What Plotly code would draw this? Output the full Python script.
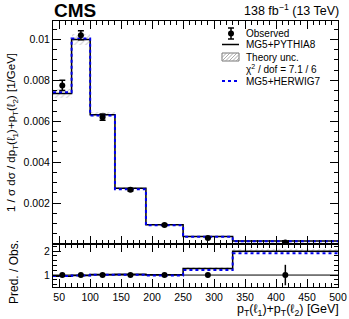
import plotly.graph_objects as go
import numpy as np

# ---- data ----
bin_edges = [40, 70, 100, 140, 190, 250, 330, 500]
observed = [0.00775, 0.0102, 0.0062, 0.00265, 0.00093, 0.00029, 0.00007]
observed_err = [0.00025, 0.00022, 0.00015, 0.00006, 0.00003, 0.00002, 0.00003]
pythia8 = [0.00735, 0.0100, 0.00632, 0.00273, 0.00094, 0.00037, 0.00014]
herwig7 = [0.00742, 0.01004, 0.00628, 0.00268, 0.00091, 0.00035, 0.000134]
theory_rel_unc = [0.03, 0.025, 0.02, 0.02, 0.03, 0.04, 0.04]
x_tick_vals = [50, 100, 150, 200, 250, 300, 350, 400, 450, 500]
y_tick_vals = [0.002, 0.004, 0.006, 0.008, 0.01]
y_tick_text = ["0.002", "0.004", "0.006", "0.008", "0.01"]

edges = np.array(bin_edges, float)
centers = 0.5 * (edges[:-1] + edges[1:])
widths = np.diff(edges)
obs = np.array(observed)
oerr = np.array(observed_err)
py = np.array(pythia8)
hw = np.array(herwig7)
unc = np.array(theory_rel_unc)

FONT = "Liberation Sans, Arial, Helvetica, sans-serif"
fig = go.Figure()

def step(vals):
    return list(edges), list(vals) + [vals[-1]]

# ---- main panel ----
fig.add_trace(go.Bar(x=centers, width=widths, base=py * (1 - unc), y=py * 2 * unc,
                     marker=dict(color="rgba(255,255,255,0)", line=dict(width=0),
                                 pattern=dict(shape="/", fgcolor="#999999", size=4, solidity=0.25)),
                     xaxis="x", yaxis="y", showlegend=False, hoverinfo="skip"))
sx, sy = step(py)
fig.add_trace(go.Scatter(x=sx, y=sy, mode="lines", line=dict(color="black", width=1.5, shape="hv"),
                         xaxis="x", yaxis="y", showlegend=False))
sx, sy = step(hw)
fig.add_trace(go.Scatter(x=sx, y=sy, mode="lines", line=dict(color="#0000ee", width=2, dash="dot", shape="hv"),
                         xaxis="x", yaxis="y", showlegend=False))
fig.add_trace(go.Scatter(x=centers, y=obs, mode="markers",
                         marker=dict(color="black", size=6),
                         error_y=dict(type="data", array=oerr, color="black", thickness=1.5, width=3),
                         xaxis="x", yaxis="y", showlegend=False))

# ---- ratio panel ----
rpy = py / obs
rhw = hw / obs
fig.add_trace(go.Bar(x=centers, width=widths, base=rpy * (1 - unc), y=rpy * 2 * unc,
                     marker=dict(color="rgba(255,255,255,0)", line=dict(width=0),
                                 pattern=dict(shape="/", fgcolor="#999999", size=4, solidity=0.25)),
                     xaxis="x2", yaxis="y2", showlegend=False, hoverinfo="skip"))
fig.add_trace(go.Scatter(x=[edges[0], edges[-1]], y=[1, 1], mode="lines",
                         line=dict(color="black", width=1), xaxis="x2", yaxis="y2", showlegend=False))
sx, sy = step(rpy)
fig.add_trace(go.Scatter(x=sx, y=sy, mode="lines", line=dict(color="black", width=1.5, shape="hv"),
                         xaxis="x2", yaxis="y2", showlegend=False))
sx, sy = step(rhw)
fig.add_trace(go.Scatter(x=sx, y=sy, mode="lines", line=dict(color="#0000ee", width=2, dash="dot", shape="hv"),
                         xaxis="x2", yaxis="y2", showlegend=False))
fig.add_trace(go.Scatter(x=centers, y=np.ones_like(obs), mode="markers",
                         marker=dict(color="black", size=6),
                         error_y=dict(type="data", array=oerr / obs, color="black", thickness=1.5, width=0),
                         xaxis="x2", yaxis="y2", showlegend=False))

W, H = 349, 319
ml, mr, mt, mb = 53, 11, 21, 32
split = 0.1617

axis_common = dict(showline=True, linecolor="black", linewidth=1, mirror="allticks",
                   ticks="inside", ticklen=8, tickcolor="black", showgrid=False, zeroline=False,
                   automargin=False,
                   tickfont=dict(family=FONT, size=10.5, color="black"))

fig.update_layout(
    width=W, height=H, plot_bgcolor="white", paper_bgcolor="white",
    margin=dict(l=ml, r=mr, t=mt, b=mb, autoexpand=False), barmode="overlay", bargap=0,
    font=dict(family=FONT, color="black"),
    xaxis=dict(domain=[0, 1], range=[40, 500], anchor="y", showticklabels=False,
               tickvals=x_tick_vals, minor=dict(ticks="inside", ticklen=4, dtick=10, tick0=0, tickcolor="black"),
               **axis_common),
    yaxis=dict(domain=[split, 1], range=[0, 0.0109], anchor="x",
               tickvals=y_tick_vals, ticktext=y_tick_text,
               minor=dict(ticks="inside", ticklen=4, dtick=0.0005, tick0=0, tickcolor="black"),
               title=dict(text="1 / σ dσ / dp<sub>T</sub>(ℓ<sub>1</sub>)+p<sub>T</sub>(ℓ<sub>2</sub>) [1/GeV]",
                          font=dict(family=FONT, size=11.5), standoff=5),
               **axis_common),
    xaxis2=dict(domain=[0, 1], range=[40, 500], anchor="y2", tickvals=x_tick_vals,
                minor=dict(ticks="inside", ticklen=4, dtick=10, tick0=0, tickcolor="black"),
                **axis_common),
    yaxis2=dict(domain=[0, split], range=[0.5, 2.3], anchor="x2", tickvals=[1, 2],
                minor=dict(ticks="inside", ticklen=4, dtick=0.2, tick0=0, tickcolor="black"),
                **axis_common),
)

def px2paper_x(px):
    return (px - ml) / (W - ml - mr)

def px2paper_y(py_):
    return 1 - (py_ - mt) / (H - mt - mb)

ann = []
ann.append(dict(text="<b>CMS</b>", x=px2paper_x(52), y=px2paper_y(11), xanchor="left", yanchor="middle",
                font=dict(family=FONT, size=19)))
ann.append(dict(text="138 fb<sup>−1</sup> (13 TeV)", x=px2paper_x(341), y=px2paper_y(10), xanchor="right",
                yanchor="middle", font=dict(family=FONT, size=12.5)))
ann.append(dict(text="p<sub>T</sub>(ℓ<sub>1</sub>)+p<sub>T</sub>(ℓ<sub>2</sub>) [GeV]", x=px2paper_x(341),
                y=px2paper_y(310), xanchor="right", yanchor="middle", font=dict(family=FONT, size=12.5)))
ann.append(dict(text="Pred. / Obs.", x=px2paper_x(14), y=px2paper_y(272), textangle=-90,
                xanchor="center", yanchor="middle", font=dict(family=FONT, size=12)))

# legend
leg_x_text = 244
rows = [33.5, 44.5, 57, 69.5, 81]
labels = ["Observed", "MG5+PYTHIA8", "Theory unc.", "χ<sup>2</sup> / dof = 7.1 / 6", "MG5+HERWIG7"]
for yy, lab in zip(rows, labels):
    ann.append(dict(text=lab, x=px2paper_x(leg_x_text), y=px2paper_y(yy), xanchor="left", yanchor="middle",
                    font=dict(family=FONT, size=10)))
for a in ann:
    a.update(xref="paper", yref="paper", showarrow=False)
fig.update_layout(annotations=ann)

shapes = []
sym_c = 231
# Observed symbol
shapes.append(dict(type="line", x0=px2paper_x(sym_c), x1=px2paper_x(sym_c), y0=px2paper_y(28), y1=px2paper_y(39),
                   line=dict(color="black", width=1.5)))
for yy in (28, 39):
    shapes.append(dict(type="line", x0=px2paper_x(sym_c - 3), x1=px2paper_x(sym_c + 3), y0=px2paper_y(yy),
                       y1=px2paper_y(yy), line=dict(color="black", width=1.5)))
shapes.append(dict(type="circle", x0=px2paper_x(sym_c - 3), x1=px2paper_x(sym_c + 3), y0=px2paper_y(rows[0] - 3),
                   y1=px2paper_y(rows[0] + 3), fillcolor="black", line=dict(color="black", width=0)))
# Pythia line
shapes.append(dict(type="line", x0=px2paper_x(222), x1=px2paper_x(239), y0=px2paper_y(rows[1]), y1=px2paper_y(rows[1]),
                   line=dict(color="black", width=1.5)))
# Theory unc box
shapes.append(dict(type="rect", x0=px2paper_x(222), x1=px2paper_x(239), y0=px2paper_y(rows[2] - 4),
                   y1=px2paper_y(rows[2] + 4), line=dict(color="#777777", width=1), fillcolor="rgba(0,0,0,0)"))
for k in range(-2, 6):
    xa = 222 + 3.5 * k
    x0, y0 = xa, rows[2] + 4
    x1, y1 = xa + 8, rows[2] - 4
    if x0 < 222:
        y0 = y0 - (222 - x0); x0 = 222
    if x1 > 239:
        y1 = y1 + (x1 - 239); x1 = 239
    if x1 > x0:
        shapes.append(dict(type="line", x0=px2paper_x(x0), x1=px2paper_x(x1), y0=px2paper_y(y0), y1=px2paper_y(y1),
                           line=dict(color="#999999", width=0.8)))
# Herwig line
shapes.append(dict(type="line", x0=px2paper_x(222), x1=px2paper_x(239), y0=px2paper_y(rows[4]), y1=px2paper_y(rows[4]),
                   line=dict(color="#0000ee", width=2, dash="dot")))
for s in shapes:
    s.update(xref="paper", yref="paper")
fig.update_layout(shapes=shapes)

fig.write_html("out.html", config={"displayModeBar": False},
               post_script="document.body.style.margin='0';document.body.style.padding='0';")
